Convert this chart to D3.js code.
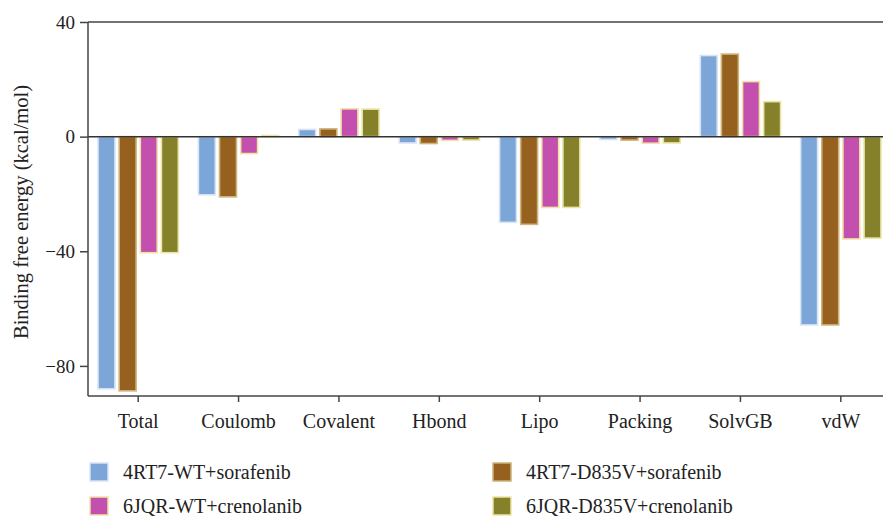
<!DOCTYPE html>
<html>
<head>
<meta charset="utf-8">
<script src="https://cdnjs.cloudflare.com/ajax/libs/d3/7.8.5/d3.min.js"></script>
<style>
  body{margin:0;background:#fff;}
  svg text{font-family:"Liberation Serif","Times New Roman",serif;fill:#222;}
</style>
</head>
<body>
<div id="chart"></div>
<script>
// categories along x
var categories=["Total","Coulomb","Covalent","Hbond","Lipo","Packing","SolvGB","vdW"];
var seriesNames=["4RT7-WT+sorafenib","4RT7-D835V+sorafenib","6JQR-WT+crenolanib","6JQR-D835V+crenolanib"];
// values (kcal/mol)
var wtSorafenib=[-88.0,-20.3,2.5,-2.2,-29.9,-1.0,28.3,-65.7];
var d835vSorafenib=[-88.7,-21.0,2.7,-2.4,-30.6,-1.2,28.8,-65.7];
var wtCrenolanib=[-40.5,-5.9,9.7,-1.3,-24.7,-2.3,19.2,-35.7];
var d835vCrenolanib=[-40.5,0.4,9.6,-1.2,-24.7,-2.2,12.2,-35.4];
var yTicks=[40,0,-40,-80];
var fills=["#7ca6d8","#96601e","#c34fae","#85812b"];
var strokes=["#d7e4f4","#cdb37c","#efe3a6","#ebe4a6"];

var W=883,H=517;
var m={left:88,top:22,right:891,bottom:396};
var svg=d3.select("#chart").append("svg").attr("width",W).attr("height",H);

var allSeries=[wtSorafenib,d835vSorafenib,wtCrenolanib,d835vCrenolanib];
var rows=[];
categories.forEach(function(c,i){
  allSeries.forEach(function(s,j){ rows.push({cat:c,ser:j,v:s[i]}); });
});

var x=d3.scaleBand().domain(categories).range([m.left,m.right]).paddingInner(0.2).paddingOuter(0.1);
var xs=d3.scaleBand().domain(d3.range(4)).range([0,x.bandwidth()]).paddingInner(0.2);
var y=d3.scaleLinear().domain([-90.5,40]).range([m.bottom,m.top]);

// top frame line
svg.append("line").attr("x1",m.left).attr("x2",W).attr("y1",y(40)).attr("y2",y(40))
  .attr("stroke","#444").attr("stroke-width",1.5);

// bars
svg.append("g").selectAll("rect").data(rows).enter().append("rect")
  .attr("x",function(d){return x(d.cat)+xs(d.ser);})
  .attr("width",xs.bandwidth())
  .attr("y",function(d){return y(Math.max(0,d.v));})
  .attr("height",function(d){return Math.abs(y(d.v)-y(0));})
  .attr("fill",function(d){return fills[d.ser];})
  .attr("stroke",function(d){return strokes[d.ser];})
  .attr("stroke-width",1.6);

// zero line
svg.append("line").attr("x1",m.left).attr("x2",W).attr("y1",y(0)).attr("y2",y(0))
  .attr("stroke","#333").attr("stroke-width",1.5);

// axes
var yAxis=svg.append("g").attr("transform","translate("+m.left+",0)")
  .call(d3.axisLeft(y).tickValues(yTicks).tickSize(8).tickPadding(5)
    .tickFormat(function(d){return d<0?"\u2212"+Math.abs(d):d;}));
var xAxis=svg.append("g").attr("transform","translate(0,"+m.bottom+")")
  .call(d3.axisBottom(x).tickSize(6).tickPadding(12).tickSizeOuter(0));
[yAxis,xAxis].forEach(function(g){
  g.select(".domain").attr("stroke","#444").attr("stroke-width",1.5);
  g.selectAll(".tick line").attr("stroke","#444").attr("stroke-width",1.5);
  g.selectAll("text").attr("font-family",null).style("font-size","20px").attr("fill","#222");
});
yAxis.selectAll("text").style("font-size","19px");
yAxis.select(".domain").attr("d","M0,"+m.top+"V"+m.bottom);
xAxis.select(".domain").attr("d","M"+m.left+",0H"+W);

// y label
svg.append("text").attr("transform","translate(28,212) rotate(-90)")
  .attr("text-anchor","middle").style("font-size","20.5px")
  .text("Binding free energy (kcal/mol)");

// legend
var leg=svg.append("g").selectAll("g").data(seriesNames).enter().append("g")
  .attr("transform",function(d,i){return "translate("+(i%2?493:90)+","+(i<2?463:497)+")";});
leg.append("rect").attr("width",18).attr("height",18)
  .attr("fill",function(d,i){return fills[i];})
  .attr("stroke",function(d,i){return strokes[i];}).attr("stroke-width",1.5);
leg.append("text").attr("x",33).attr("y",16).style("font-size","20px").text(function(d){return d;});
</script>
</body>
</html>
